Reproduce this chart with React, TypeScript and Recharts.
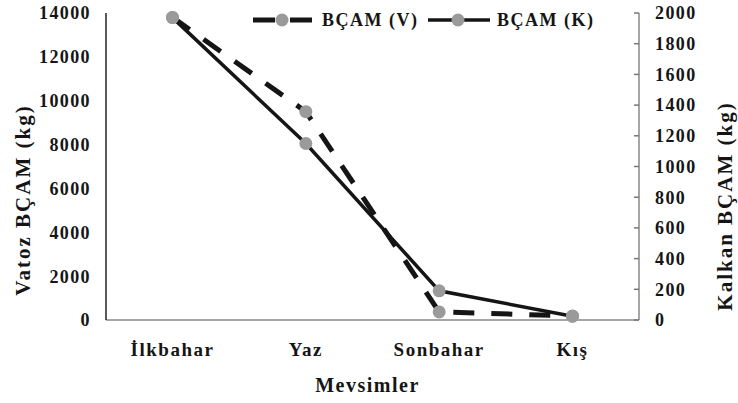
import React from 'react';
import { LineChart, Line, XAxis, YAxis, Legend, Label } from 'recharts';

const seasons = ['İlkbahar', 'Yaz', 'Sonbahar', 'Kış'];
const vatoz = [13800, 9500, 370, 180];
const kalkan = [1970, 1150, 190, 25];
const leftTicks = [0, 2000, 4000, 6000, 8000, 10000, 12000, 14000];
const rightTicks = [0, 200, 400, 600, 800, 1000, 1200, 1400, 1600, 1800, 2000];

const data = seasons.map((s, i) => ({ season: s, v: vatoz[i], k: kalkan[i] }));

const FONT = 'Liberation Serif';
const DOT = '#9a9a9a';
const INK = '#151515';

const textStyle = { fontFamily: FONT, fontWeight: 700 };

const LegendBox = () => (
  <svg width={738} height={40} style={{ position: 'absolute', left: 0, top: 0, overflow: 'visible' }}>
    <line x1={253} x2={313} y1={20} y2={20} stroke={INK} strokeWidth={5} strokeDasharray="22 15" />
    <circle cx={282} cy={20} r={6.5} fill={DOT} />
    <text x={322} y={26} fill={INK} style={{ ...textStyle, fontSize: 18, letterSpacing: 1.5 }}>BÇAM (V)</text>
    <line x1={428} x2={490} y1={20} y2={20} stroke={INK} strokeWidth={3.5} />
    <circle cx={458} cy={20} r={6.5} fill={DOT} />
    <text x={497} y={26} fill={INK} style={{ ...textStyle, fontSize: 18, letterSpacing: 1.5 }}>BÇAM (K)</text>
  </svg>
);

const vTitle = (x: number, y: number, value: string) => () => (
  <text
    x={x}
    y={y}
    transform={`rotate(-90 ${x} ${y})`}
    textAnchor="middle"
    dominantBaseline="central"
    fill={INK}
    style={{ ...textStyle, fontSize: 21, letterSpacing: 2 }}
  >
    {value}
  </text>
);

export default function App() {
  return (
    <div style={{ position: 'absolute', left: 0, top: 0, background: '#fff', fontFamily: FONT }}>
      <LineChart width={738} height={403} data={data} margin={{ top: 13, right: 0, bottom: 0, left: 0 }}>
        <XAxis
          dataKey="season"
          scale="point"
          padding={{ left: 66.5, right: 66.5 }}
          height={83}
          axisLine={{ stroke: '#888', strokeWidth: 1.5 }}
          tickLine={false}
          tickSize={0}
          tickMargin={23}
          tick={{ fill: INK, style: { ...textStyle, fontSize: 19, letterSpacing: 1.5 } }}
        >
          <Label
            value="Mevsimler"
            position="insideBottom"
            offset={11}
            dx={-5}
            fill={INK}
            style={{ ...textStyle, fontSize: 20, letterSpacing: 1.5 }}
          />
        </XAxis>
        <YAxis
          yAxisId="left"
          orientation="left"
          width={106}
          domain={[0, 14000]}
          ticks={leftTicks}
          interval={0}
          axisLine={{ stroke: '#222', strokeWidth: 1.5 }}
          tickLine={false}
          tickSize={0}
          tickMargin={15}
          tick={{ fill: INK, style: { ...textStyle, fontSize: 18, letterSpacing: 1.4 } }}
        >
          <Label content={vTitle(23, 200, 'Vatoz BÇAM (kg)')} />
        </YAxis>
        <YAxis
          yAxisId="right"
          orientation="right"
          width={99}
          domain={[0, 2000]}
          ticks={rightTicks}
          interval={0}
          axisLine={{ stroke: '#888', strokeWidth: 1.5 }}
          tickLine={{ stroke: '#777', strokeWidth: 1.5 }}
          tickSize={-5}
          tickMargin={21}
          tick={{ fill: INK, textAnchor: 'start', style: { ...textStyle, fontSize: 18, letterSpacing: 1.4 } }}
        >
          <Label content={vTitle(725, 206, 'Kalkan BÇAM (kg)')} />
        </YAxis>
        <Legend verticalAlign="top" wrapperStyle={{ left: 0, top: 0 }} content={() => <LegendBox />} />
        <Line
          yAxisId="left"
          dataKey="v"
          name="BÇAM (V)"
          stroke={INK}
          strokeWidth={5}
          strokeDasharray="21 17"
          dot={{ r: 6.5, fill: DOT, stroke: 'none' }}
          isAnimationActive={false}
        />
        <Line
          yAxisId="right"
          dataKey="k"
          name="BÇAM (K)"
          stroke={INK}
          strokeWidth={3.5}
          dot={{ r: 6.5, fill: DOT, stroke: 'none' }}
          isAnimationActive={false}
        />
      </LineChart>
    </div>
  );
}
